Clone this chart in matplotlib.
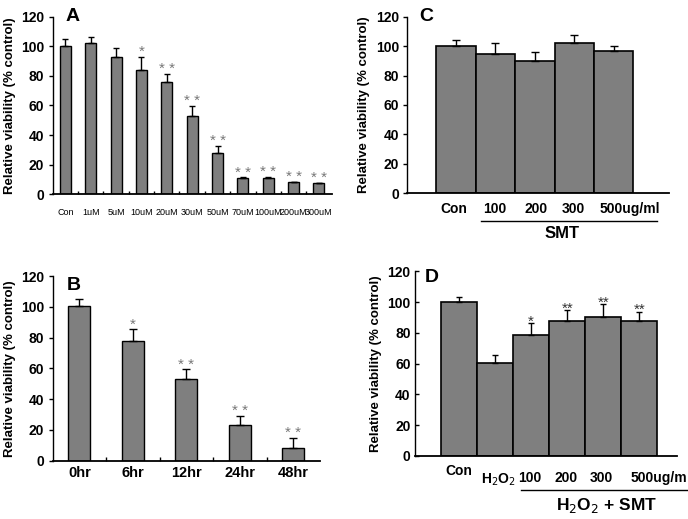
import numpy as np
import matplotlib.pyplot as plt

plt.rcParams['font.family'] = ['Liberation Sans', 'DejaVu Sans']

# Panel A: concentration series
a_labels = ["Con", "1uM", "5uM", "10uM", "20uM", "30uM", "50uM", "70uM", "100uM", "200uM", "300uM"]
a_vals = [100.2, 102.2, 92.6, 83.8, 75.7, 53.2, 27.9, 11.0, 11.3, 8.1, 7.4]
a_err = [5.0, 3.8, 6.0, 9.0, 5.6, 6.3, 4.8, 0.4, 0.7, 0.5, 0.5]
a_sig = ["", "", "", "*", "* *", "* *", "* *", "* *", "* *", "* *", "* *"]

# Panel B: time series
b_labels = ["0hr", "6hr", "12hr", "24hr", "48hr"]
b_vals = [100.5, 77.5, 52.8, 23.4, 8.0]
b_err = [4.3, 7.8, 6.5, 5.8, 7.0]
b_sig = ["", "*", "* *", "* *", "* *"]

# Panel C: SMT alone
c_labels = ["Con", "100", "200", "300", "500ug/ml"]
c_vals = [100.3, 94.4, 89.9, 102.3, 96.7]
c_err = [3.8, 7.5, 6.1, 5.2, 3.3]

# Panel D: H2O2 + SMT
d_labels = ["Con", "H$_2$O$_2$", "100", "200", "300", "500ug/m"]
d_vals = [100.2, 60.2, 78.8, 87.4, 90.3, 87.4]
d_err = [2.8, 5.4, 7.3, 7.4, 8.2, 6.3]
d_sig = ["", "", "*", "**", "**", "**"]

BAR = "#7f7f7f"
YLABEL = "Relative viability (% control)"

fig = plt.figure(figsize=(6.88, 5.19), dpi=100)


def style_axes(ax, ytick_dir="out"):
    ax.spines["top"].set_visible(False)
    ax.spines["right"].set_visible(False)
    ax.spines["left"].set_linewidth(1.0)
    ax.spines["bottom"].set_linewidth(1.3)
    ax.set_ylim(0, 120)
    ax.set_yticks(np.arange(0, 121, 20))
    ax.tick_params(axis="y", direction=ytick_dir, length=3, width=1, labelsize=10, pad=3)
    for t in ax.get_yticklabels():
        t.set_fontweight("bold")
    ax.set_ylabel(YLABEL, fontsize=9.5, fontweight="bold", labelpad=4)


def up_errors(ax, x, vals, err, cap):
    ax.errorbar(x, vals, yerr=[np.zeros(len(err)), err], fmt="none",
                ecolor="black", elinewidth=1, capsize=cap, capthick=1)


# ---- A
axA = fig.add_axes([0.0766, 0.6256, 0.4054, 0.3424])
xa = np.arange(len(a_vals))
axA.bar(xa, a_vals, width=0.43, color=BAR, edgecolor="black", linewidth=1)
up_errors(axA, xa, a_vals, a_err, 2.5)
axA.set_xlim(-0.5, 10.5)
style_axes(axA)
axA.set_xticks(xa)
axA.set_xticklabels(a_labels, family=["Liberation Sans Narrow", "Liberation Sans"], fontsize=6.5)
axA.set_xticks(np.arange(0.5, 10.5, 1), minor=True)
axA.tick_params(axis="x", which="major", length=0, pad=10)
axA.tick_params(axis="x", which="minor", direction="in", length=2.5, width=1)
for x, v, e, s in zip(xa, a_vals, a_err, a_sig):
    if s:
        axA.text(x, v + e - 1.5, s, ha="center", va="bottom", color="#777777", fontsize=11)
axA.text(0.3, 120, "A", fontsize=14, fontweight="bold", ha="center", va="center")

# ---- B
axB = fig.add_axes([0.0766, 0.1124, 0.3885, 0.3558])
xb = np.arange(len(b_vals))
axB.bar(xb, b_vals, width=0.41, color=BAR, edgecolor="black", linewidth=1)
up_errors(axB, xb, b_vals, b_err, 3)
axB.set_xlim(-0.5, 4.5)
style_axes(axB)
axB.set_xticks(xb)
axB.set_xticklabels(b_labels, fontsize=10.5, fontweight="bold")
axB.set_xticks(np.arange(0.5, 4.5, 1), minor=True)
axB.tick_params(axis="x", which="major", length=0, pad=4)
axB.tick_params(axis="x", which="minor", direction="in", length=3, width=1)
for x, v, e, s in zip(xb, b_vals, b_err, b_sig):
    if s:
        axB.text(x, v + e - 1.5, s, ha="center", va="bottom", color="#777777", fontsize=11)
axB.text(-0.1, 114, "B", fontsize=14, fontweight="bold", ha="center", va="center")

# ---- C
axC = fig.add_axes([0.592, 0.6275, 0.380, 0.3405])
xc = np.arange(len(c_vals))
axC.bar(xc, c_vals, width=1.0, color=BAR, edgecolor="black", linewidth=1.2)
up_errors(axC, xc, c_vals, c_err, 3)
axC.set_xlim(-1.24, 5.4)
style_axes(axC)
axC.set_xticks([])
c_xpos = [-0.07, 0.98, 2.03, 2.98, 4.4]
for x, lab in zip(c_xpos, c_labels):
    axC.text(x, -6, lab, ha="center", va="top", fontsize=10, fontweight="bold")
axC.plot([0.63, 5.1], [-19.0, -19.0], color="black", lw=1, clip_on=False)
axC.text(2.7, -22.5, "SMT", ha="center", va="top", fontsize=12, fontweight="bold")
axC.text(-0.77, 120, "C", fontsize=14, fontweight="bold", ha="center", va="center")

# ---- D
axD = fig.add_axes([0.603, 0.1214, 0.381, 0.3558])
xd = np.arange(len(d_vals))
axD.bar(xd, d_vals, width=1.0, color=BAR, edgecolor="black", linewidth=1.2)
up_errors(axD, xd, d_vals, d_err, 2)
axD.set_xlim(-1.23, 6.05)
style_axes(axD, ytick_dir="in")
axD.set_xticks([])
d_xpos = [0.0, 1.1, 1.95, 2.96, 3.96, 5.55]
d_ypos = [-5, -10, -10, -10, -10, -10]
for x, y, lab in zip(d_xpos, d_ypos, d_labels):
    axD.text(x, y, lab, ha="center", va="top", fontsize=10, fontweight="bold", clip_on=False)
axD.plot([1.72, 7.0], [-22.0, -22.0], color="black", lw=1, clip_on=False)
axD.text(4.1, -26, "H$_2$O$_2$ + SMT", ha="center", va="top", fontsize=12.5, fontweight="bold")
for x, v, e, s in zip(xd, d_vals, d_err, d_sig):
    if s:
        axD.text(x, v + e - 3.5, s, ha="center", va="bottom", color="#333333", fontsize=11)
axD.text(-0.75, 116, "D", fontsize=14, fontweight="bold", ha="center", va="center")

fig.savefig("out.png", dpi=100)
